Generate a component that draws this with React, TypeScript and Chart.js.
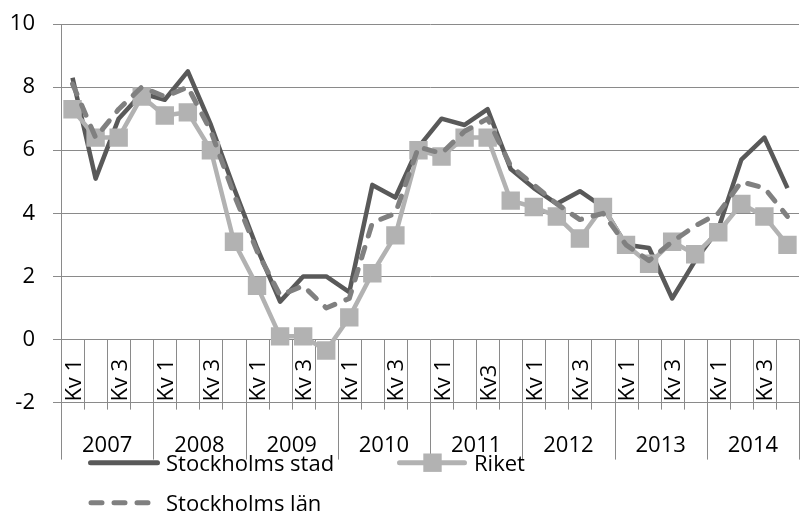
import React, { useEffect, useRef } from "react";
import { Chart, registerables } from "chart.js";

Chart.register(...registerables);

// ---- data ----
const years = ["2007", "2008", "2009", "2010", "2011", "2012", "2013", "2014"];
const quarterLabels = [
  "Kv 1", "Kv 2", "Kv 3", "Kv 4",
  "Kv 1", "Kv 2", "Kv 3", "Kv 4",
  "Kv 1", "Kv 2", "Kv 3", "Kv 4",
  "Kv 1", "Kv 2", "Kv 3", "Kv 4",
  "Kv 1", "Kv 2", "Kv3", "Kv 4",
  "Kv 1", "Kv 2", "Kv 3", "Kv 4",
  "Kv 1", "Kv 2", "Kv 3", "Kv 4",
  "Kv 1", "Kv 2", "Kv 3", "Kv 4",
];
const stockholmsStad = [8.3, 5.1, 7.0, 7.8, 7.6, 8.5, 6.8, 4.8, 2.9, 1.2, 2.0, 2.0, 1.5, 4.9, 4.5, 6.1, 7.0, 6.8, 7.3, 5.4, 4.8, 4.3, 4.7, 4.2, 3.0, 2.9, 1.3, 2.5, 3.5, 5.7, 6.4, 4.8];
const riket = [7.3, 6.4, 6.4, 7.7, 7.1, 7.2, 6.0, 3.1, 1.7, 0.1, 0.1, -0.35, 0.7, 2.1, 3.3, 6.0, 5.8, 6.4, 6.4, 4.4, 4.2, 3.9, 3.2, 4.2, 3.0, 2.4, 3.1, 2.7, 3.4, 4.3, 3.9, 3.0];
const stockholmsLan = [8.1, 6.4, 7.3, 8.0, 7.7, 8.0, 6.6, 4.6, 2.8, 1.4, 1.7, 1.0, 1.3, 3.7, 4.0, 6.1, 5.9, 6.6, 7.0, 5.5, 4.9, 4.3, 3.8, 4.0, 3.0, 2.5, 3.1, 3.6, 4.0, 5.0, 4.8, 3.9];
const yMin = -2;
const yMax = 10;
const yStep = 2;
const seriesNames = ["Stockholms stad", "Riket", "Stockholms län"];

// ---- styles ----
const FONT = '"Open Sans", sans-serif';
const FONT_SIZE = 22;
const GRID = "#8a8a8a";
const C_STAD = "#595959";
const C_RIKET = "#b2b2b2";
const C_LAN = "#808080";
const DASH = [11, 12];

const groupAxisPlugin = {
  id: "groupAxis",
  beforeDatasetsDraw(chart: any) {
    const { ctx } = chart;
    const x = chart.scales.x;
    const y = chart.scales.y;
    const n = quarterLabels.length;
    const w = x.getPixelForValue(1) - x.getPixelForValue(0);
    const y0 = y.getPixelForValue(0);
    const yLow = y.getPixelForValue(yMin);
    ctx.save();
    ctx.strokeStyle = GRID;
    ctx.lineWidth = 1;
    for (let i = 0; i <= n; i++) {
      const bx = Math.round(x.getPixelForValue(i) - w / 2) + 0.5;
      const isYear = i % 4 === 0;
      ctx.beginPath();
      ctx.moveTo(bx, y0);
      ctx.lineTo(bx, isYear ? yLow + 57 : yLow + 7);
      ctx.stroke();
    }
    ctx.fillStyle = "#000";
    ctx.font = `${FONT_SIZE}px ${FONT}`;
    // quarter labels (every other), rotated
    for (let i = 0; i < n; i += 2) {
      const cx = x.getPixelForValue(i);
      ctx.save();
      ctx.translate(cx, yLow - 1);
      ctx.rotate(-Math.PI / 2);
      ctx.textAlign = "left";
      ctx.textBaseline = "alphabetic";
      ctx.fillText(quarterLabels[i], 0, 8);
      ctx.restore();
    }
    // year labels
    ctx.textAlign = "center";
    ctx.textBaseline = "alphabetic";
    years.forEach((yr, k) => {
      const cx = (x.getPixelForValue(k * 4) + x.getPixelForValue(k * 4 + 3)) / 2;
      ctx.fillText(yr, cx, yLow + 49);
    });
    ctx.restore();
  },
};

const legendPlugin = {
  id: "customLegend",
  afterDraw(chart: any) {
    const { ctx } = chart;
    ctx.save();
    ctx.font = `${FONT_SIZE}px ${FONT}`;
    ctx.fillStyle = "#000";
    ctx.textAlign = "left";
    ctx.textBaseline = "alphabetic";
    ctx.lineCap = "round";
    // row 1
    const r1 = 462.7;
    ctx.strokeStyle = C_STAD;
    ctx.lineWidth = 5;
    ctx.beginPath();
    ctx.moveTo(90.5, r1);
    ctx.lineTo(157.5, r1);
    ctx.stroke();
    ctx.fillText(seriesNames[0], 166, r1 + 8);

    ctx.strokeStyle = C_RIKET;
    ctx.beginPath();
    ctx.moveTo(399.5, r1);
    ctx.lineTo(464.5, r1);
    ctx.stroke();
    ctx.fillStyle = C_RIKET;
    ctx.fillRect(432.5 - 9.2, r1 - 9.2, 18.4, 18.4);
    ctx.fillStyle = "#000";
    ctx.fillText(seriesNames[1], 474, r1 + 8);

    // row 2
    const r2 = 502.7;
    ctx.strokeStyle = C_LAN;
    ctx.setLineDash(DASH);
    ctx.beginPath();
    ctx.moveTo(91, r2);
    ctx.lineTo(150, r2);
    ctx.stroke();
    ctx.setLineDash([]);
    ctx.fillText(seriesNames[2], 166, r2 + 8);
    ctx.restore();
  },
};

export default function App() {
  const canvasRef = useRef<HTMLCanvasElement | null>(null);

  useEffect(() => {
    if (!canvasRef.current) return;
    const chart = new Chart(canvasRef.current, {
      type: "line",
      data: {
        labels: quarterLabels,
        datasets: [
          {
            label: seriesNames[0],
            data: stockholmsStad,
            borderColor: C_STAD,
            backgroundColor: C_STAD,
            borderWidth: 4.5,
            pointRadius: 0,
            borderJoinStyle: "round",
            tension: 0,
            order: 3,
          },
          {
            label: seriesNames[1],
            data: riket,
            borderColor: C_RIKET,
            backgroundColor: C_RIKET,
            borderWidth: 4.5,
            pointStyle: "rect",
            pointRadius: 13,
            pointBorderWidth: 0,
            pointBackgroundColor: C_RIKET,
            borderJoinStyle: "round",
            tension: 0,
            order: 2,
          },
          {
            label: seriesNames[2],
            data: stockholmsLan,
            borderColor: C_LAN,
            backgroundColor: C_LAN,
            borderWidth: 5,
            borderDash: DASH,
            borderCapStyle: "round",
            pointRadius: 0,
            borderJoinStyle: "round",
            tension: 0,
            order: 1,
          },
        ],
      },
      options: {
        responsive: false,
        animation: false,
        layout: { padding: { top: 24, bottom: 108.4, left: 0, right: 1 } },
        plugins: {
          legend: { display: false },
          tooltip: { enabled: false },
        },
        scales: {
          x: {
            type: "category",
            display: false,
            offset: true,
          },
          y: {
            min: yMin,
            max: yMax,
            afterFit: (s: any) => {
              s.width = 61;
              s.paddingTop = 0;
              s.paddingBottom = 0;
            },
            ticks: {
              stepSize: yStep,
              color: "#000",
              padding: 18,
              font: { family: FONT, size: FONT_SIZE },
            },
            grid: {
              color: GRID,
              lineWidth: 1,
              tickLength: 8,
              drawTicks: true,
            },
            border: { display: true, color: GRID, width: 1 },
          },
        },
      },
      plugins: [groupAxisPlugin, legendPlugin],
    });
    return () => chart.destroy();
  }, []);

  return (
    <div
      style={{
        position: "fixed",
        left: 0,
        top: 0,
        width: 806,
        height: 511,
        overflow: "hidden",
        background: "#fff",
      }}
    >
      <canvas ref={canvasRef} width={812} height={511} style={{ display: "block" }} />
    </div>
  );
}
